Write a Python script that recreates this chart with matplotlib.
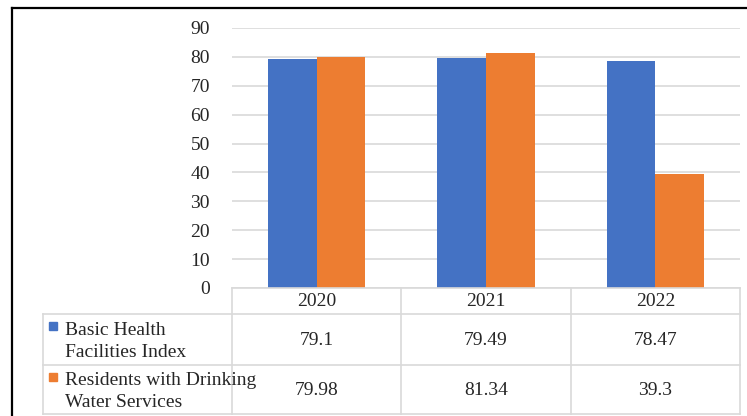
import matplotlib
matplotlib.use("Agg")
import matplotlib.pyplot as plt
from matplotlib.lines import Line2D
from matplotlib.patches import Rectangle

years = ["2020", "2021", "2022"]
series_names = ["Basic Health\nFacilities Index", "Residents with Drinking\nWater Services"]
health_index = [79.1, 79.49, 78.47]
drinking_water = [79.98, 81.34, 39.3]
value_labels = [["79.1", "79.49", "78.47"], ["79.98", "81.34", "39.3"]]
colors = ["#4472C4", "#ED7D31"]

W, H = 747, 416
plt.rcParams['font.family'] = ['Liberation Serif', 'DejaVu Serif']
fig = plt.figure(figsize=(W / 100, H / 100), dpi=100)

def fx(px):
    return px / W

def fy(py):
    return 1 - py / H

# plot area
left_px, right_px, top_px, bot_px = 232, 740, 28, 288
ax = fig.add_axes([fx(left_px), fy(bot_px), fx(right_px - left_px), (bot_px - top_px) / H])
x = range(len(years))
bw = 0.287
ax.bar([i - bw / 2 for i in x], health_index, width=bw, color=colors[0], zorder=3)
ax.bar([i + bw / 2 for i in x], drinking_water, width=bw, color=colors[1], zorder=3)
ax.set_xlim(-0.5, len(years) - 0.5)
ax.set_ylim(0, 90)
ax.set_yticks(range(0, 91, 10))
ax.yaxis.grid(True, color="#d9d9d9", linewidth=1.2, zorder=0)
ax.set_xticks([])
for s in ax.spines.values():
    s.set_visible(False)
ax.tick_params(axis='y', length=0, pad=16, labelsize=14, labelcolor="#262626")

# overlay for table and border
ov = fig.add_axes([0, 0, 1, 1])
ov.set_xlim(0, W)
ov.set_ylim(H, 0)
ov.axis('off')

grid_c = "#d9d9d9"
lw = 1.2
col_edges = [232, 401, 571, 740]
row_edges = [288, 314, 365, 414]
legend_left = 43
# horizontal lines
ov.add_line(Line2D([col_edges[0], col_edges[-1]], [row_edges[0]] * 2, color=grid_c, lw=lw))
for r in row_edges[1:]:
    ov.add_line(Line2D([legend_left, col_edges[-1]], [r, r], color=grid_c, lw=lw))
# vertical lines
for c in col_edges:
    ov.add_line(Line2D([c, c], [row_edges[0], row_edges[-1]], color=grid_c, lw=lw))
ov.add_line(Line2D([legend_left, legend_left], [row_edges[1], row_edges[-1]], color=grid_c, lw=lw))

fs = 14
tc = "#262626"
for j, yr in enumerate(years):
    cx = (col_edges[j] + col_edges[j + 1]) / 2
    ov.text(cx, (row_edges[0] + row_edges[1]) / 2 + 1, yr, ha='center', va='center', fontsize=fs, color=tc)
    for i in range(2):
        cy = (row_edges[i + 1] + row_edges[i + 2]) / 2
        ov.text(cx, cy + 1, value_labels[i][j], ha='center', va='center', fontsize=fs, color=tc)

for i, name in enumerate(series_names):
    y0 = row_edges[i + 1]
    ov.add_patch(Rectangle((49, y0 + 8), 8, 8, color=colors[i]))
    ov.text(65, (row_edges[i + 1] + row_edges[i + 2]) / 2 + 2, name, ha='left', va='center',
            fontsize=fs, color=tc, linespacing=1.42)

# black border
ov.add_line(Line2D([12, W], [8, 8], color="black", lw=1.6))
ov.add_line(Line2D([12, 12], [8, H], color="black", lw=1.6))

fig.savefig("out.png", dpi=100)
